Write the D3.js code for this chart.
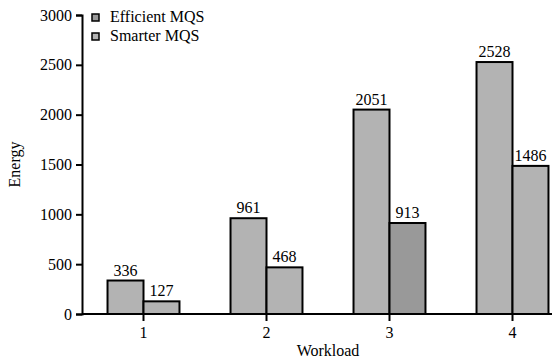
<!DOCTYPE html>
<html><head><meta charset="utf-8">
<script src="https://cdn.jsdelivr.net/npm/d3@7"></script>
<style>body{margin:0;background:#fff}svg{display:block}svg text{font-family:"Liberation Serif","Times New Roman",serif !important;fill:#000}</style>
</head><body>
<svg id="c" width="552" height="360"></svg>
<script>
const workloads = ["1","2","3","4"];
const seriesNames = ["Efficient MQS","Smarter MQS"];
const efficient = [336, 961, 2051, 2528];
const smarter = [127, 468, 913, 1486];
const yTicks = [0,500,1000,1500,2000,2500,3000];

const FS = 16;
const svg = d3.select("#c");
const x0 = d3.scaleBand().domain(workloads).range([82,574]).paddingInner(0.415).paddingOuter(0.2075);
const x1 = d3.scaleBand().domain(seriesNames).range([0, x0.bandwidth()]);
const y = d3.scaleLinear().domain([0,3000]).range([314,15]);

const light = "#b3b3b3", dark = "#999999";
const legendColor = {"Efficient MQS": dark, "Smarter MQS": light};
function barFill(s, w){ return (s==="Smarter MQS" && w==="3") ? dark : light; }

const data = [];
workloads.forEach((w,i)=>{
  data.push({w, s:"Efficient MQS", v:efficient[i]});
  data.push({w, s:"Smarter MQS", v:smarter[i]});
});

svg.append("g").selectAll("rect").data(data).join("rect")
  .attr("x", d=>x0(d.w)+x1(d.s))
  .attr("y", d=>y(d.v))
  .attr("width", x1.bandwidth())
  .attr("height", d=>y(0)-y(d.v))
  .attr("fill", d=>barFill(d.s,d.w))
  .attr("stroke","#000").attr("stroke-width",2);

svg.append("g").selectAll("text").data(data).join("text")
  .attr("x", d=>x0(d.w)+x1(d.s)+x1.bandwidth()/2)
  .attr("y", d=>y(d.v)-5)
  .attr("text-anchor","middle").style("font-size",FS+"px")
  .text(d=>d.v);

const ya = svg.append("g").attr("transform","translate(82,0)")
  .call(d3.axisLeft(y).tickValues(yTicks).tickFormat(d3.format("d")).tickSize(6).tickSizeOuter(6).tickPadding(4));
ya.attr("font-family",null).attr("font-size",null);
ya.selectAll("text").style("font-size",FS+"px");
ya.selectAll("path,line").attr("stroke","#000").attr("stroke-width",2);

const xa = svg.append("g").attr("transform","translate(0,314)")
  .call(d3.axisBottom(x0).tickSize(7).tickSizeOuter(0).tickPadding(6));
xa.attr("font-family",null).attr("font-size",null);
xa.select("path").attr("d","M82,0H552");
xa.selectAll("text").style("font-size",FS+"px");
xa.selectAll("path,line").attr("stroke","#000").attr("stroke-width",2);

svg.append("text").attr("x",328).attr("y",356).attr("text-anchor","middle").style("font-size",FS+"px").text("Workload");
svg.append("text").attr("transform","translate(20,164.5) rotate(-90)").attr("text-anchor","middle").style("font-size",FS+"px").text("Energy");

const lg = svg.append("g").selectAll("g").data(seriesNames).join("g")
  .attr("transform",(d,i)=>`translate(92,${14+i*19})`);
lg.append("rect").attr("width",7).attr("height",7).attr("fill",d=>legendColor[d]).attr("stroke","#000").attr("stroke-width",1.5);
lg.append("text").attr("x",18).attr("y",8).style("font-size",FS+"px").text(d=>d);
</script>
</body></html>
